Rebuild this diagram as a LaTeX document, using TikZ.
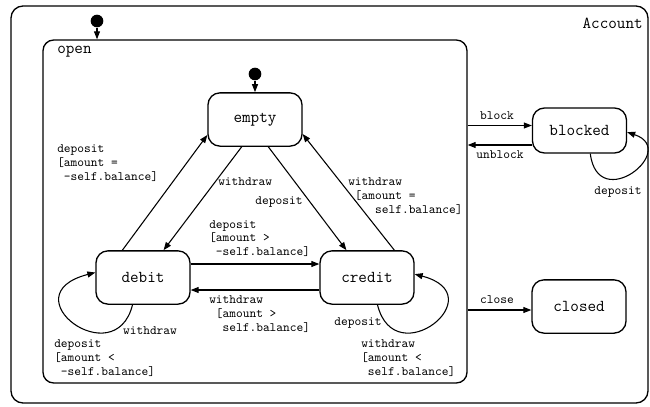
\documentclass[tikz,border=0pt]{standalone}
\usepackage{fontspec}
\usetikzlibrary{positioning,calc,arrows.meta}
\tikzstyle{st}= [rectangle, draw, rounded corners=9pt, line width=1pt, minimum width=70.5pt, minimum height=40pt, font=\fontsize{12.5}{14}\selectfont\ttfamily]
\tikzstyle{box}= [rectangle, draw, rounded corners=9pt, line width=1pt, inner sep=0pt]
\tikzstyle{ini}= [circle, fill, inner sep=0pt, minimum size=9.5pt]
\tikzstyle{tr}= [line width=0.8pt, -{Triangle[length=6pt,width=4.5pt]}]
\tikzstyle{lbl}= [font=\fontsize{9.6}{10.4}\selectfont\ttfamily, align=left, inner sep=0pt]

\begin{document}
\begin{tikzpicture}[x=0.75pt,y=-0.75pt]
				\useasboundingbox (0,0) rectangle (650,407);
				\node[box, minimum width=477.75pt, minimum height=297.75pt] (account) at (329.5,204.5) {};
				\node[box, rounded corners=8pt, minimum width=318pt, minimum height=257.25pt] (open) at (255,211.5) {};
				\node[lbl, anchor=base east, font=\fontsize{12.5}{14}\selectfont\ttfamily] (accountname) at (643,28) {Account};
				\node[lbl, anchor=base west, font=\fontsize{12.5}{14}\selectfont\ttfamily] (openname) at (57,53) {open};
				\node[st] (empty) at (255,119.5) {empty};
				\node[st] (debit) at (143,277.5) {debit};
				\node[st] (credit) at (367,277.5) {credit};
				\node[st, minimum height=33.75pt] (blocked) at (579.5,130.5) {blocked};
				\node[st] (closed) at (579,306.5) {closed};
				\node[ini] (init1) at (97,21) {};
				\node[ini] (init2) at (255,74) {};
				\coordinate (dc) at (255,264);
				\coordinate (cd) at (255,290);
				\coordinate (bk) at (500,125.5);
				\coordinate (ub) at (500,145);
				\coordinate (cl) at (500,310);
				% initial states
				\draw[tr] (init1) -- (init1 |- open.north);
				\draw[tr] (init2) -- (empty);
				% inside open
				\draw[tr] (empty.244) -- (debit.53);
				\draw[tr] (debit.127) -- (empty.198);
				\draw[tr] (empty.296) -- (credit.127);
				\draw[tr] (credit.45.5) -- (empty.343);
				\draw[tr] (debit.east |- dc) -- (credit.west |- dc);
				\draw[tr] (credit.west |- cd) -- (debit.east |- cd);
				\draw[tr] (debit.249) .. controls (115,375) and (8,295) .. (debit.174);
				\draw[tr] (credit.291) .. controls (395,375) and (495,295) .. (credit.4);
				% outside open
				\draw[tr] (open.east |- bk) -- (blocked.west |- bk);
				\draw[tr] (blocked.west |- ub) -- (open.east |- ub);
				\draw[tr] (blocked.295) .. controls (598,215) and (680,150) .. (blocked.358);
				\draw[tr] (open.east |- cl) -- (closed.west |- cl);
				% labels
				\node[lbl, anchor=west] (l1) at (57,163) {deposit\\{}[amount =\\\phantom{x}-self.balance]};
				\node[lbl, anchor=west] (l2) at (218,182) {withdraw};
				\node[lbl] (l3) at (279,202) {deposit};
				\node[lbl, anchor=west] (l4) at (348,196) {withdraw\\\phantom{x}[amount =\\\phantom{xxxx}self.balance]};
				\node[lbl, anchor=west] (l5) at (209,238.5) {deposit\\{}[amount >\\\phantom{x}-self.balance]};
				\node[lbl, anchor=west] (l6) at (209,314) {withdraw\\\phantom{x}[amount >\\\phantom{xx}self.balance]};
				\node[lbl] (l7) at (150,331) {withdraw};
				\node[lbl, anchor=west] (l8) at (54,358) {deposit\\{}[amount <\\\phantom{x}-self.balance]};
				\node[lbl] (l9) at (358,323) {deposit};
				\node[lbl, anchor=west] (l10) at (361,358) {withdraw\\{}[amount <\\\phantom{x}self.balance]};
				\node[lbl] (l11) at (497,116) {block};
				\node[lbl] (l12) at (500,155) {unblock};
				\node[lbl] (l13) at (618,192) {deposit};
				\node[lbl] (l14) at (497,300) {close};
\end{tikzpicture}
\end{document}
